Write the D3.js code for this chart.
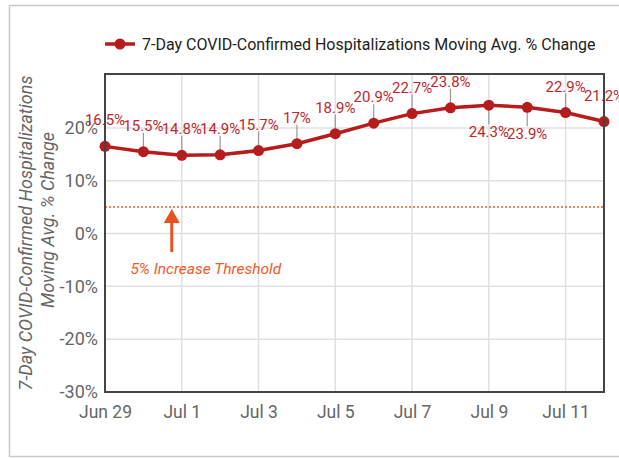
<!DOCTYPE html>
<html>
<head>
<meta charset="utf-8">
<script src="https://cdn.jsdelivr.net/npm/d3@7"></script>
<style>
  body { margin: 0; background: #fff; }
  svg { display: block; font-family: Roboto, "Noto Sans", sans-serif; }
</style>
</head>
<body>
<div id="chart"></div>
<script>
// data
const dates = ['2020-06-29', '2020-06-30', '2020-07-01', '2020-07-02', '2020-07-03', '2020-07-04', '2020-07-05',
  '2020-07-06', '2020-07-07', '2020-07-08', '2020-07-09', '2020-07-10', '2020-07-11', '2020-07-12'];
const pctChange = [16.5, 15.5, 14.8, 14.9, 15.7, 17, 18.9, 20.9, 22.7, 23.8, 24.3, 23.9, 22.9, 21.2];
const xTickDates = ['2020-06-29', '2020-07-01', '2020-07-03', '2020-07-05', '2020-07-07', '2020-07-09', '2020-07-11'];
const xTickLabels = ['Jun 29', 'Jul 1', 'Jul 3', 'Jul 5', 'Jul 7', 'Jul 9', 'Jul 11'];
const yTicks = [-30, -20, -10, 0, 10, 20];
const threshold = 5;
const thresholdDate = '2020-07-01';

const seriesName = '7-Day COVID-Confirmed Hospitalizations Moving Avg. % Change';
const yTitle = ['7-Day COVID-Confirmed Hospitalizations', 'Moving Avg. % Change'];
const thresholdLabel = '5% Increase Threshold';

const width = 619;
const height = 458;
const margin = { top: 74, right: 15, bottom: 66, left: 105 };
const red = '#b71c1c';
const orange = '#f0592a';

const parse = d3.utcParse('%Y-%m-%d');
const data = dates.map((d, i) => ({ date: parse(d), value: pctChange[i] }));

const svg = d3.select('#chart')
  .append('svg')
  .attr('width', width)
  .attr('height', height);

// outer frame of the card
svg.append('rect')
  .attr('x', 9.5).attr('y', 5.5)
  .attr('width', width + 20).attr('height', 451)
  .attr('fill', 'none')
  .attr('stroke', '#c8c8c8')
  .attr('stroke-width', 1.5);

const x = d3.scaleUtc()
  .domain(d3.extent(data, d => d.date))
  .range([margin.left, width - margin.right]);

const y = d3.scaleLinear()
  .domain([-30, 30.2])
  .range([height - margin.bottom, margin.top]);

// gridlines
svg.append('g')
  .selectAll('line')
  .data(yTicks)
  .join('line')
  .attr('x1', margin.left).attr('x2', width - margin.right)
  .attr('y1', d => y(d)).attr('y2', d => y(d))
  .attr('stroke', '#e0e0e0')
  .attr('stroke-width', 1.5);

svg.append('g')
  .selectAll('line')
  .data(xTickDates.map(parse))
  .join('line')
  .attr('x1', d => x(d)).attr('x2', d => x(d))
  .attr('y1', margin.top).attr('y2', height - margin.bottom)
  .attr('stroke', '#e0e0e0')
  .attr('stroke-width', 1.5);

// axes (labels only, the frame is drawn separately)
const xAxis = svg.append('g')
  .attr('transform', `translate(0,${height - margin.bottom})`)
  .call(d3.axisBottom(x)
    .tickValues(xTickDates.map(parse))
    .tickFormat((d, i) => xTickLabels[i])
    .tickSize(0)
    .tickPadding(14));
xAxis.select('.domain').remove();
xAxis.selectAll('text')
  .attr('font-size', 17.5)
  .attr('font-family', 'Roboto, sans-serif')
  .attr('fill', '#666');

const yAxis = svg.append('g')
  .attr('transform', `translate(${margin.left},0)`)
  .call(d3.axisLeft(y)
    .tickValues(yTicks)
    .tickFormat(d => d + '%')
    .tickSize(0)
    .tickPadding(7));
yAxis.select('.domain').remove();
yAxis.selectAll('text')
  .attr('font-size', 18)
  .attr('font-family', 'Roboto, sans-serif')
  .attr('fill', '#666');

// y axis title, two lines
const titleY = svg.append('g')
  .attr('font-style', 'italic')
  .attr('font-size', 18)
  .attr('fill', '#666')
  .attr('text-anchor', 'middle');
titleY.append('text')
  .attr('transform', 'translate(32,233) rotate(-90)')
  .text(yTitle[0]);
titleY.append('text')
  .attr('transform', 'translate(54,220) rotate(-90)')
  .text(yTitle[1]);

// threshold line + arrow + note
svg.append('line')
  .attr('x1', margin.left).attr('x2', width - margin.right)
  .attr('y1', y(threshold)).attr('y2', y(threshold))
  .attr('stroke', orange)
  .attr('stroke-width', 1.5)
  .attr('stroke-dasharray', '2,2');

const ax = x(parse(thresholdDate)) - 10;
const ay = y(threshold) + 2;
svg.append('line')
  .attr('x1', ax).attr('x2', ax)
  .attr('y1', ay + 12).attr('y2', ay + 43)
  .attr('stroke', '#e8521f')
  .attr('stroke-width', 3);
svg.append('path')
  .attr('d', `M${ax},${ay} L${ax - 8},${ay + 14} L${ax + 8},${ay + 14} Z`)
  .attr('fill', '#e8521f');
svg.append('text')
  .attr('x', ax + 34)
  .attr('y', ay + 65)
  .attr('text-anchor', 'middle')
  .attr('font-style', 'italic')
  .attr('font-size', 15.5)
  .attr('fill', orange)
  .text(thresholdLabel);

// series line
const line = d3.line()
  .x(d => x(d.date))
  .y(d => y(d.value));

svg.append('path')
  .datum(data)
  .attr('d', line)
  .attr('fill', 'none')
  .attr('stroke', red)
  .attr('stroke-width', 3.5)
  .attr('stroke-linejoin', 'round');

// annotation stems and labels (two labels near the peak sit below)
const below = d => d.date.getUTCDate() === 9 || d.date.getUTCDate() === 10;

svg.append('g')
  .selectAll('line')
  .data(data)
  .join('line')
  .attr('x1', d => x(d.date)).attr('x2', d => x(d.date))
  .attr('y1', d => y(d.value))
  .attr('y2', d => below(d) ? y(d.value) + 19 : y(d.value) - 19)
  .attr('stroke', '#999')
  .attr('stroke-width', 1.2);

svg.append('g')
  .selectAll('circle')
  .data(data)
  .join('circle')
  .attr('cx', d => x(d.date))
  .attr('cy', d => y(d.value))
  .attr('r', 5.5)
  .attr('fill', red);

svg.append('g')
  .selectAll('text')
  .data(data)
  .join('text')
  .attr('x', d => x(d.date))
  .attr('y', d => below(d) ? y(d.value) + 32 : y(d.value) - 21)
  .attr('text-anchor', 'middle')
  .attr('font-size', 15)
  .attr('fill', '#c0272d')
  .text(d => d.value + '%');

// plot frame
svg.append('rect')
  .attr('x', margin.left).attr('y', margin.top)
  .attr('width', width - margin.right - margin.left)
  .attr('height', height - margin.bottom - margin.top)
  .attr('fill', 'none')
  .attr('stroke', '#444')
  .attr('stroke-width', 2);

// legend
const legend = svg.append('g').attr('transform', 'translate(105,44)');
legend.append('line')
  .attr('x1', 0).attr('x2', 30)
  .attr('stroke', red)
  .attr('stroke-width', 3.5);
legend.append('circle')
  .attr('cx', 15)
  .attr('r', 5.5)
  .attr('fill', red);
legend.append('text')
  .attr('x', 37)
  .attr('y', 6)
  .attr('font-size', 16)
  .attr('fill', '#222')
  .text(seriesName);
</script>
</body>
</html>
